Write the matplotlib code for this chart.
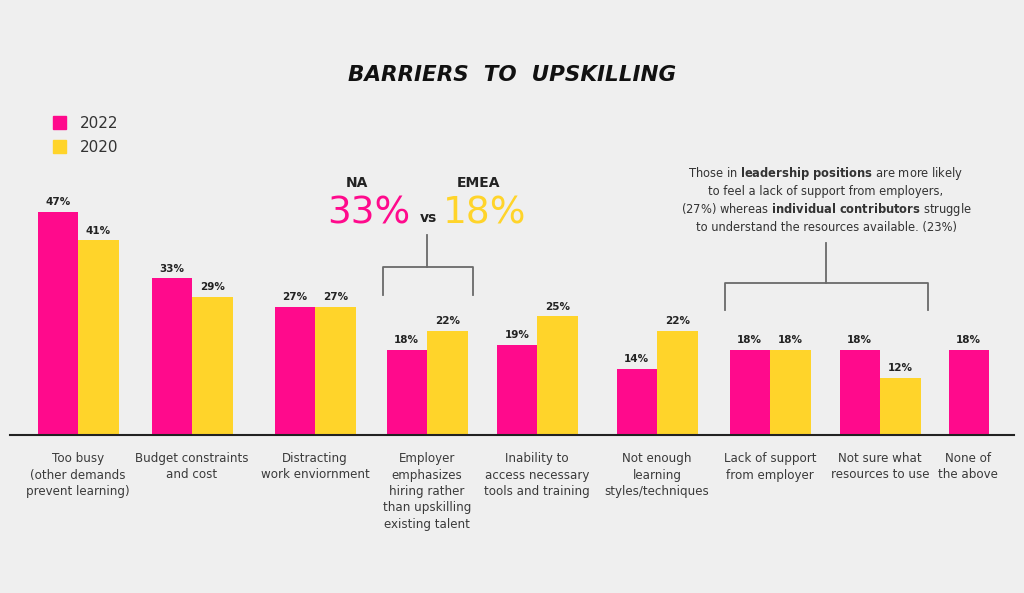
import numpy as np
import matplotlib.pyplot as plt

plt.rcParams['font.family'] = ['DejaVu Sans']
plt.rcParams['mathtext.fontset'] = 'custom'
plt.rcParams['mathtext.rm'] = 'DejaVu Sans'
plt.rcParams['mathtext.bf'] = 'DejaVu Sans:bold'

categories = ['Too busy\n(other demands\nprevent learning)', 'Budget constraints\nand cost',
              'Distracting\nwork enviornment',
              'Employer\nemphasizes\nhiring rather\nthan upskilling\nexisting talent',
              'Inability to\naccess necessary\ntools and training',
              'Not enough\nlearning\nstyles/techniques', 'Lack of support\nfrom employer',
              'Not sure what\nresources to use', 'None of\nthe above']
vals_2022 = [47, 33, 27, 18, 19, 14, 18, 18, 18]
vals_2020 = [41, 29, 27, 22, 25, 22, 18, 12, None]

pink = '#ff0a8c'
yellow = '#ffd42a'
bg = '#efefef'
W, H = 1024, 593

# layout: group centres in pixels
xpos = [78, 192, 315, 427, 537, 657, 770, 880, 989]
bw = 40.5
base_y = 435
px_per_pct = 4.75
top_pct = 50

fig = plt.figure(figsize=(W / 100, H / 100), dpi=100, facecolor=bg)

ax = fig.add_axes([0, (H - base_y) / H, 1, top_pct * px_per_pct / H])
ax.set_facecolor('none')
ax.set_xlim(0, W)
ax.set_ylim(0, top_pct)
ax.axis('off')

for i in range(len(xpos)):
    v1 = vals_2022[i]
    v2 = vals_2020[i]
    ax.bar(xpos[i] - bw / 2, v1, width=bw, color=pink)
    ax.text(xpos[i] - bw / 2, v1 + 1, f'{v1}%', ha='center', va='bottom',
            fontsize=7.5, fontweight='bold', color='#222222')
    if v2 is not None:
        ax.bar(xpos[i] + bw / 2, v2, width=bw, color=yellow)
        ax.text(xpos[i] + bw / 2, v2 + 1, f'{v2}%', ha='center', va='bottom',
                fontsize=7.5, fontweight='bold', color='#222222')

# overlay in pixel coords for text and brackets
ov = fig.add_axes([0, 0, 1, 1])
ov.set_facecolor('none')
ov.set_xlim(0, W)
ov.set_ylim(H, 0)
ov.axis('off')

ov.plot([10, 1014], [base_y, base_y], color='#222222', lw=1.5)

label_x = xpos[:-1] + [968]
for x, lab in zip(label_x, categories):
    ov.text(x, 452, lab, ha='center', va='top', fontsize=8.6, color='#3a3a3a',
            linespacing=1.35)

ov.text(512, 75, 'BARRIERS  TO  UPSKILLING', ha='center', va='center', fontsize=15.5,
        fontweight='bold', fontstyle='italic', color='#111111')

# legend
ov.add_patch(plt.Rectangle((53, 116), 13, 13, color=pink))
ov.add_patch(plt.Rectangle((53, 140), 13, 13, color=yellow))
ov.text(80, 123, '2022', va='center', fontsize=11, color='#333333')
ov.text(80, 147, '2020', va='center', fontsize=11, color='#333333')

# NA vs EMEA callout
ov.text(357, 183, 'NA', ha='center', va='center', fontsize=10, fontweight='bold', color='#222222')
ov.text(478, 183, 'EMEA', ha='center', va='center', fontsize=10, fontweight='bold', color='#222222')
ov.text(369, 213, '33%', ha='center', va='center', fontsize=27, color=pink)
ov.text(428, 218, 'vs', ha='center', va='center', fontsize=10, fontweight='bold', color='#222222')
ov.text(485, 213, '18%', ha='center', va='center', fontsize=27, color=yellow)

br = '#6a6a6a'
ov.plot([427, 427], [235, 267], color=br, lw=1.3)
ov.plot([383, 383, 473, 473], [295, 267, 267, 295], color=br, lw=1.3)
ov.plot([826, 826], [243, 283], color=br, lw=1.3)
ov.plot([725, 725, 928, 928], [310, 283, 283, 310], color=br, lw=1.3)

note = ['Those in $\\mathbf{leadership\\ positions}$ are more likely',
        'to feel a lack of support from employers,',
        '(27%) whereas $\\mathbf{individual\\ contributors}$ struggle',
        'to understand the resources available. (23%)']
for k, line in enumerate(note):
    ov.text(826, 174 + k * 18, line, ha='center', va='center', fontsize=8.3, color='#333333')

fig.savefig('out.png', dpi=100, facecolor=bg)
